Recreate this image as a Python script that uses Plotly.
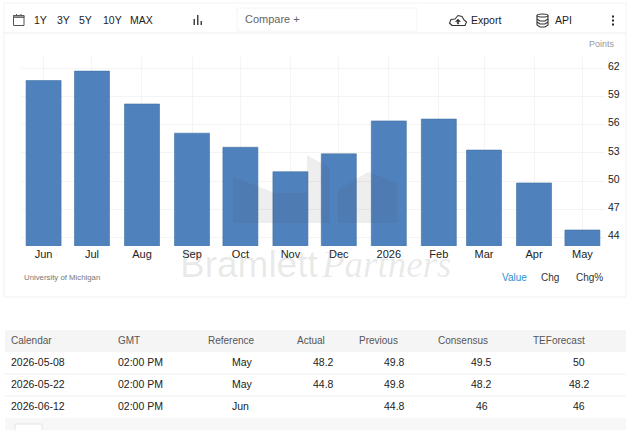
import plotly.graph_objects as go

WIDTH = 630
HEIGHT = 430
FONT = "Liberation Sans"

# chart data
dates = ["2025-06-01", "2025-07-01", "2025-08-01", "2025-09-01", "2025-10-01", "2025-11-01",
         "2025-12-01", "2026-01-01", "2026-02-01", "2026-03-01", "2026-04-01", "2026-05-01"]
month_labels = ["Jun", "Jul", "Aug", "Sep", "Oct", "Nov", "Dec", "2026", "Feb", "Mar", "Apr", "May"]
values = [60.7, 61.7, 58.2, 55.1, 53.6, 51.0, 52.9, 56.4, 56.6, 53.3, 49.8, 44.8]
y_ticks = [44, 47, 50, 53, 56, 59, 62]

# calendar table
table_headers = ["Calendar", "GMT", "Reference", "Actual", "Previous", "Consensus", "TEForecast"]
calendar = ["2026-05-08", "2026-05-22", "2026-06-12"]
gmt = ["02:00 PM", "02:00 PM", "02:00 PM"]
reference = ["May", "May", "Jun"]
actual = ["48.2", "44.8", ""]
previous = ["49.8", "49.8", "44.8"]
consensus = ["49.5", "48.2", "46"]
teforecast = ["50", "48.2", "46"]

range_buttons = ["1Y", "3Y", "5Y", "10Y", "MAX"]
range_button_x = [40.5, 63, 85.5, 112, 141.5]


def px(x):
    return x / WIDTH


def py(y):
    return 1 - y / HEIGHT


def rect(x0, y0, x1, y1, fill="rgba(0,0,0,0)", line="rgba(0,0,0,0)", width=1, layer="below"):
    return dict(type="rect", xref="paper", yref="paper", x0=px(x0), x1=px(x1), y0=py(y0), y1=py(y1),
                fillcolor=fill, line=dict(color=line, width=width), layer=layer)


def poly(points, fill="rgba(0,0,0,0)", line="rgba(0,0,0,0)", width=1, layer="above", closed=True):
    path = "M " + " L ".join(f"{px(x):.5f},{py(y):.5f}" for x, y in points)
    if closed:
        path += " Z"
    return dict(type="path", xref="paper", yref="paper", path=path, fillcolor=fill,
                line=dict(color=line, width=width), layer=layer)


def ellipse(x0, y0, x1, y1):
    return dict(type="circle", xref="paper", yref="paper", x0=px(x0), x1=px(x1), y0=py(y1), y1=py(y0),
                line=dict(color="#333333", width=1.1), layer="above")


def text(x, y, s, size=11, color="#333333", anchor="left", family=FONT, style="normal"):
    # annotations carry a couple of px of padding on the left
    if anchor == "left":
        x -= 2
    return dict(x=px(x), y=py(y), xref="paper", yref="paper", text=s, showarrow=False, xanchor=anchor,
                yanchor="middle", font=dict(family=family, size=size, color=color, style=style))


fig = go.Figure()
fig.add_trace(go.Bar(
    x=dates, y=values, width=21.7 * 86400000,
    marker=dict(color="#4f81bd", line=dict(color="#41709f", width=0.6)),
))

shapes = [
    # toolbar and chart card
    rect(4, 3, 626, 33, fill="white", line="#f4f4f4"),
    rect(4, 33, 626, 297, fill="white", line="#f1f1f1"),
    rect(237, 8, 417, 31, fill="white", line="#f4f4f4"),
    # table bands
    rect(5, 330, 626, 352, fill="#f5f5f5"),
    rect(5, 418, 626, 430, fill="#f7f7f7"),
    rect(15, 424, 42, 436, fill="white", line="#e4e4e4"),
    rect(5, 373.5, 626, 374.5, fill="#f1f1f1"),
    rect(5, 395.5, 626, 396.5, fill="#f1f1f1"),
    # watermark building
    poly([(233, 177), (275, 193), (307, 193), (307, 223), (233, 223)], fill="rgba(70,70,70,0.09)"),
    poly([(307, 155), (330, 168), (330, 223), (307, 223)], fill="rgba(70,70,70,0.09)"),
    poly([(338, 190), (368, 172), (397, 183), (397, 223), (338, 223)], fill="rgba(70,70,70,0.09)"),
    # calendar icon
    rect(13.5, 15.5, 24, 25.5, line="#555555", width=1, layer="above"),
    rect(13.5, 15.5, 24, 17.5, fill="#999999", line="#555555", width=0.8, layer="above"),
    rect(16, 14, 17, 16, fill="#555555", layer="above"),
    rect(20.5, 14, 21.5, 16, fill="#555555", layer="above"),
    # bar chart icon
    rect(193.5, 19, 195, 25, fill="#444444", layer="above"),
    rect(197, 15, 198.5, 25, fill="#444444", layer="above"),
    rect(200.5, 21, 202, 25, fill="#444444", layer="above"),
    # export cloud
    poly([(452, 25.5), (449.5, 23), (451, 19.5), (455, 19), (458, 15.5), (462, 16.5), (464, 20), (466.5, 22),
          (465, 25.5)], line="#333333", width=1.1),
    poly([(455.5, 21.5), (458, 19), (460.5, 21.5), (458.7, 21.5), (458.7, 24), (457.3, 24), (457.3, 21.5)],
         fill="#333333", line="#333333", width=0.5),
    # api database
    ellipse(537, 14, 548, 17),
    poly([(537, 15.5), (537, 25), (540, 27), (545, 27), (548, 25), (548, 15.5)], line="#333333", width=1.1,
         closed=False),
    poly([(537, 19), (540, 21), (545, 21), (548, 19)], line="#333333", width=1.1, closed=False),
    poly([(537, 22), (540, 24), (545, 24), (548, 22)], line="#333333", width=1.1, closed=False),
    # menu dots
    rect(612, 15.5, 614, 17.5, fill="#222222", layer="above"),
    rect(612, 19.5, 614, 21.5, fill="#222222", layer="above"),
    rect(612, 23.5, 614, 25.5, fill="#222222", layer="above"),
]

annotations = [
    text(245, 19, "Compare +", size=11, color="#666666"),
    text(471, 20, "Export", size=10.5, color="#222222"),
    text(555, 20, "API", size=10.5, color="#222222"),
    text(617, 44, "Points", size=9, color="#999999", anchor="right"),
    text(24, 277, "University of Michigan", size=7.8, color="#777777"),
    text(502, 277, "Value", size=10, color="#2d8fd5"),
    text(541, 277, "Chg", size=10, color="#333333"),
    text(576, 277, "Chg%", size=10, color="#333333"),
    text(180, 264.5, "Bramlett", size=37, color="rgba(120,120,120,0.16)"),
    text(321, 264.5, "Partners", size=37, color="rgba(120,120,120,0.16)", style="italic",
         family="Liberation Serif"),
]
for label, x in zip(range_buttons, range_button_x):
    annotations.append(text(x, 20, label, size=10.5, color="#222222", anchor="center"))

# table text
header_x = [11, 118, 208, 297, 359, 438, 533]
for label, x in zip(table_headers, header_x):
    annotations.append(text(x, 340, label, size=10, color="#555555"))
row_y = [362, 384, 406]
for i, y in enumerate(row_y):
    annotations.append(text(11, y, calendar[i], size=10.5, color="#222222"))
    annotations.append(text(118, y, gmt[i], size=10.5, color="#222222"))
    annotations.append(text(232, y, reference[i], size=10.5, color="#222222"))
    annotations.append(text(324, y, actual[i], size=10.5, color="#222222", anchor="center"))
    annotations.append(text(394, y, previous[i], size=10.5, color="#222222", anchor="center"))
    annotations.append(text(482, y, consensus[i], size=10.5, color="#222222", anchor="center"))
    annotations.append(text(579, y, teforecast[i], size=10.5, color="#222222", anchor="center"))

fig.update_layout(
    width=WIDTH, height=HEIGHT, autosize=False,
    margin=dict(l=0, r=0, t=0, b=0),
    paper_bgcolor="white", plot_bgcolor="white",
    showlegend=False, shapes=shapes, annotations=annotations,
    font=dict(family=FONT, size=11, color="#222222"),
    xaxis=dict(
        domain=[px(21), px(605)], type="date", range=["2025-05-18", "2026-05-15"],
        tickmode="array", tickvals=dates, ticktext=month_labels, ticks="",
        gridcolor="#f4f4f4", showline=False, zeroline=False,
        tickfont=dict(family=FONT, size=11, color="#222222"),
    ),
    yaxis=dict(
        domain=[py(246), py(57)], side="right", range=[43.1, 63.2],
        tickmode="array", tickvals=y_ticks, ticks="", ticklabelstandoff=2, ticklabelshift=-2,
        gridcolor="#f4f4f4", showline=False, zeroline=False,
        tickfont=dict(family=FONT, size=10.5, color="#222222"),
    ),
)

fig.write_html("out.html", config={"displayModeBar": False}, post_script="document.body.style.margin='0';")
